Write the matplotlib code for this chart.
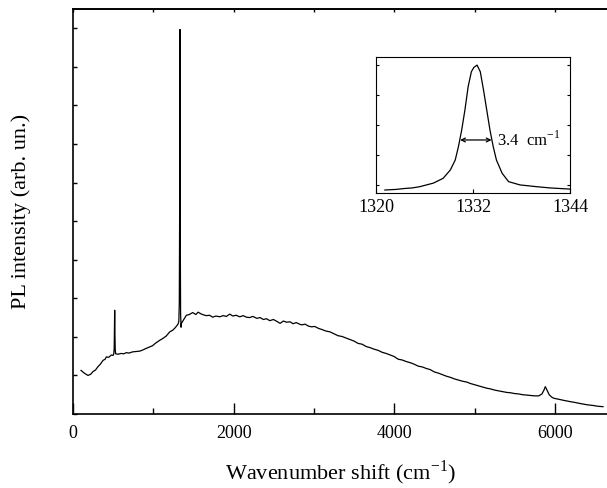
import matplotlib
matplotlib.use("Agg")
import matplotlib.pyplot as plt
from matplotlib.ticker import MultipleLocator

plt.rcParams['font.family'] = ['Liberation Serif', 'DejaVu Serif']

# Main spectrum
wavenumber = [100, 140, 187, 220, 249, 280, 312, 340, 374, 400, 415, 445, 478, 500, 508, 513, 516,
              519, 522, 526, 532, 561, 600, 630, 665, 700, 740, 780, 831, 870, 910, 955, 990,
              1030, 1080, 1120, 1160, 1205, 1240, 1270, 1308, 1318, 1324, 1328, 1330, 1332,
              1334, 1336, 1340, 1346, 1350, 1380, 1412, 1450, 1490, 1530, 1558, 1590, 1625,
              1662, 1700, 1740, 1780, 1828, 1870, 1910, 1952, 1990, 2030, 2077, 2120, 2160,
              2200, 2240, 2289, 2330, 2370, 2410, 2450, 2496, 2540, 2579, 2620, 2660, 2704,
              2740, 2780, 2820, 2849, 2890, 2930, 2970, 3010, 3057, 3100, 3150, 3200, 3250,
              3300, 3350, 3400, 3450, 3500, 3550, 3600, 3650, 3700, 3750, 3800, 3850, 3900,
              3950, 4000, 4050, 4100, 4150, 4200, 4250, 4300, 4350, 4400, 4450, 4500, 4550,
              4600, 4650, 4700, 4750, 4800, 4850, 4900, 4950, 5000, 5050, 5100, 5150, 5200,
              5250, 5300, 5350, 5400, 5450, 5500, 5550, 5600, 5650, 5700, 5750, 5800, 5840,
              5865, 5882, 5900, 5930, 5960, 5985, 6050, 6120, 6193, 6250, 6320, 6400, 6480,
              6540, 6600]
intensity = [1.13, 1.06, 1.00, 1.03, 1.10, 1.14, 1.23, 1.29, 1.39, 1.42, 1.48, 1.47, 1.53, 1.52, 1.56, 1.70, 2.20,
             2.69, 2.10, 1.66, 1.56, 1.55, 1.57, 1.56, 1.59, 1.58, 1.61, 1.62, 1.63, 1.66, 1.70, 1.74, 1.77,
             1.84, 1.91, 1.96, 2.02, 2.13, 2.17, 2.23, 2.33, 2.40, 2.90, 5.20, 8.00, 9.97,
             7.50, 4.50, 2.60, 2.25, 2.35, 2.45, 2.56, 2.58, 2.63, 2.58, 2.64, 2.60, 2.57,
             2.55, 2.56, 2.51, 2.54, 2.52, 2.55, 2.53, 2.59, 2.54, 2.56, 2.52, 2.55, 2.51,
             2.50, 2.53, 2.48, 2.50, 2.45, 2.47, 2.42, 2.45, 2.40, 2.35, 2.41, 2.38, 2.39,
             2.34, 2.37, 2.33, 2.31, 2.33, 2.28, 2.26, 2.27, 2.22, 2.19, 2.15, 2.13, 2.08,
             2.03, 2.01, 1.97, 1.93, 1.89, 1.83, 1.81, 1.75, 1.72, 1.68, 1.65, 1.60, 1.57,
             1.53, 1.49, 1.42, 1.40, 1.36, 1.33, 1.29, 1.24, 1.22, 1.18, 1.15, 1.09, 1.06,
             1.02, 0.98, 0.95, 0.91, 0.88, 0.85, 0.83, 0.79, 0.76, 0.73, 0.70, 0.67, 0.65,
             0.62, 0.60, 0.58, 0.56, 0.55, 0.53, 0.52, 0.50, 0.49, 0.48, 0.47, 0.47, 0.52,
             0.62, 0.71, 0.63, 0.50, 0.44, 0.41, 0.38, 0.35, 0.32, 0.30, 0.27, 0.24, 0.22,
             0.20, 0.19]

# Inset (1332 cm-1 line)
inset_x = [1321.1, 1322.5, 1323.5, 1324.5, 1325.4, 1327.1, 1328.3, 1329.2, 1329.8, 1330.2,
           1330.6, 1331.0, 1331.4, 1331.8, 1332.1, 1332.5, 1332.9, 1333.3, 1333.7, 1334.1,
           1334.5, 1334.9, 1335.6, 1336.4, 1337.8, 1339.9, 1341.5, 1344.0]
inset_y = [-0.17, -0.15, -0.12, -0.10, -0.06, 0.06, 0.22, 0.50, 0.83, 1.28,
           1.83, 2.50, 3.28, 3.78, 3.92, 4.00, 3.78, 3.17, 2.50, 1.83,
           1.28, 0.83, 0.39, 0.11, 0.00, -0.06, -0.10, -0.14]
fwhm_left, fwhm_right, fwhm_level = 1330.4, 1334.3, 1.5
x_ticks = [0, 2000, 4000, 6000]
inset_ticks = [1320, 1332, 1344]

fig = plt.figure(figsize=(6.07, 4.88), dpi=100)
ax = fig.add_axes([73/607, 74/488, 1 - 73/607, (414 - 9)/488])
ax.plot(wavenumber, intensity, color='black', lw=0.9)
ax.set_xlim(0, 6650)
ax.set_ylim(0, 10.5)
ax.set_xticks(x_ticks)
ax.xaxis.set_minor_locator(MultipleLocator(1000))
ax.yaxis.set_major_locator(MultipleLocator(1))
ax.set_yticklabels([])
ax.tick_params(axis='x', which='major', direction='in', length=8, width=1, labelsize=13, pad=8)
ax.tick_params(axis='x', which='minor', direction='in', length=4, width=1)
ax.tick_params(axis='y', which='major', direction='in', length=3, width=1)
ax.spines['right'].set_visible(False)
for s in ['left', 'bottom', 'top']:
    ax.spines[s].set_linewidth(1.2)
ax.set_xlabel('Wavenumber shift (cm$^{\\mathregular{-1}}$)', fontsize=16, labelpad=12)
ax.set_ylabel('PL intensity (arb. un.)', fontsize=16, labelpad=27)

top = ax.secondary_xaxis('top')
top.xaxis.set_major_locator(MultipleLocator(1000))
top.tick_params(direction='in', length=2, width=1, labeltop=False)
top.spines['top'].set_linewidth(1.2)

ins = fig.add_axes([376/607, (488 - 193)/488, (570 - 376)/607, (193 - 56.7)/488])
ins.plot(inset_x, inset_y, color='black', lw=0.9)
ins.set_xlim(1320, 1344)
ins.set_ylim(-0.27, 4.28)
ins.set_xticks(inset_ticks)
ins.yaxis.set_major_locator(MultipleLocator(1))
ins.set_yticklabels([])
ins.tick_params(axis='x', direction='in', length=3, labelsize=13, pad=4)
ins.tick_params(axis='y', direction='in', length=2, right=True)
ins.annotate('', xy=(fwhm_left, fwhm_level), xytext=(fwhm_right, fwhm_level),
             arrowprops=dict(arrowstyle='<->', color='black', lw=0.9, shrinkA=0, shrinkB=0,
                             mutation_scale=7))
ins.text(fwhm_right + 0.7, fwhm_level, '3.4  cm$^{\\mathregular{-1}}$', fontsize=12,
         va='center', ha='left')

fig.savefig('out.png', dpi=100)
